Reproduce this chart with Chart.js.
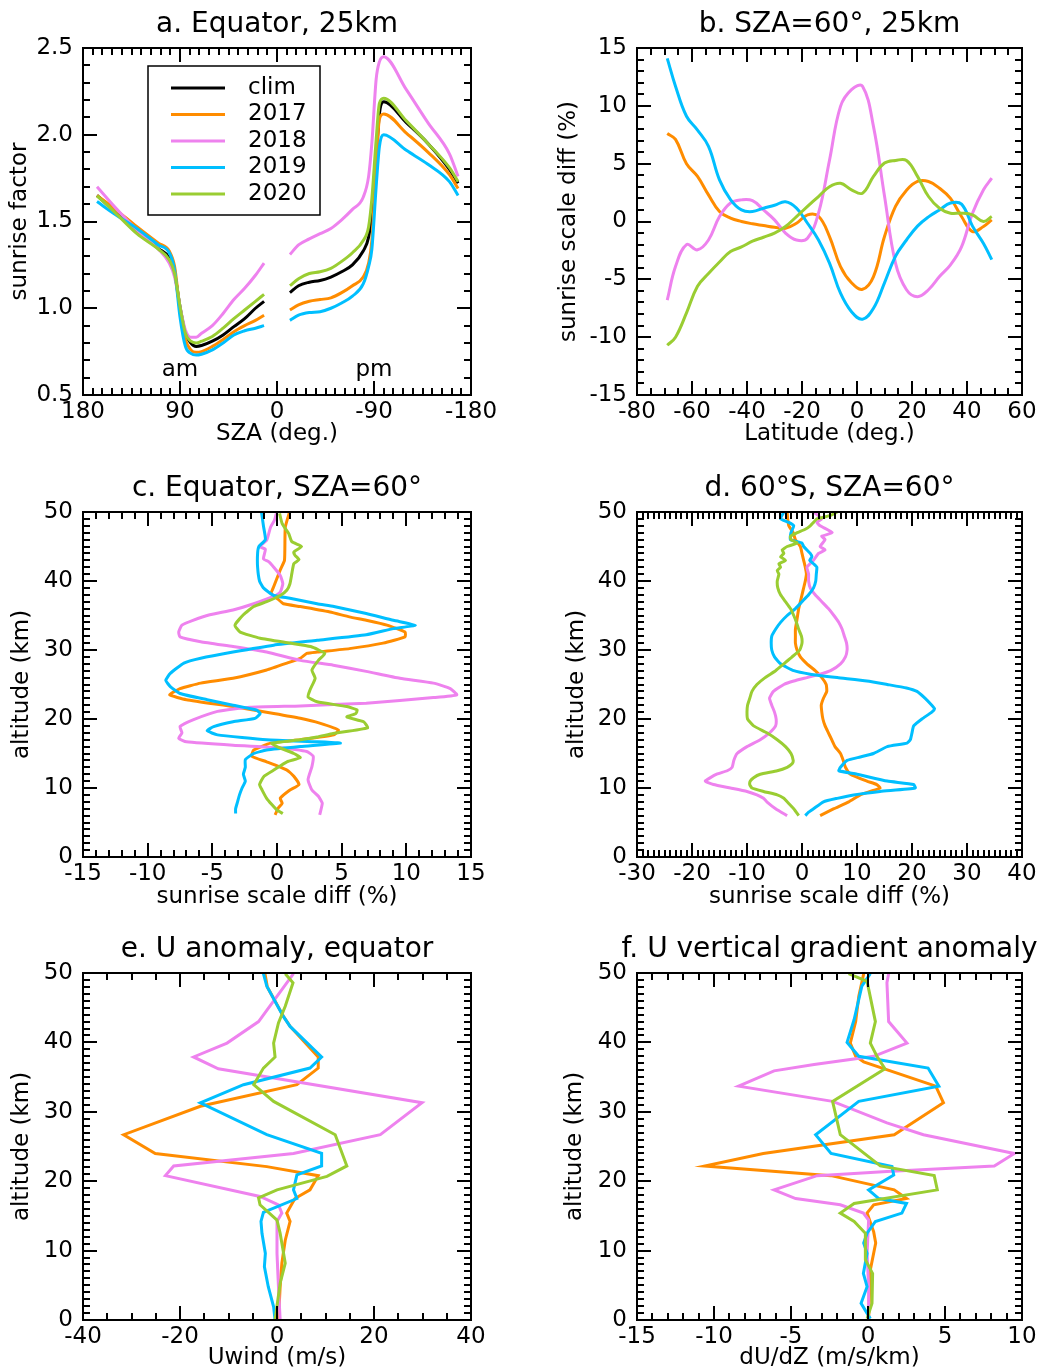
<!DOCTYPE html>
<html>
<head>
<meta charset="utf-8">
<script src="https://cdn.jsdelivr.net/npm/chart.js@4.4.1/dist/chart.umd.min.js"></script>
<style>
  html, body { margin: 0; padding: 0; background: #fff; }
  #page { position: relative; width: 1047px; height: 1372px; }
  canvas { position: absolute; }
</style>
</head>
<body>
<div id="page">
  <canvas id="pa" width="520" height="460" style="left:0;top:0"></canvas>
  <canvas id="pb" width="527" height="460" style="left:520px;top:0"></canvas>
  <canvas id="pc" width="520" height="460" style="left:0;top:460px"></canvas>
  <canvas id="pd" width="527" height="460" style="left:520px;top:460px"></canvas>
  <canvas id="pe" width="520" height="452" style="left:0;top:920px"></canvas>
  <canvas id="pf" width="527" height="452" style="left:520px;top:920px"></canvas>
</div>
<script>
// colours used by every panel
const C_CLIM = '#000000';
const C_2017 = '#ff8c00';
const C_2018 = '#ee82ee';
const C_2019 = '#00bfff';
const C_2020 = '#9acd32';

// --- a. Equator, 25km (sunrise factor vs SZA, am / pm branches)
const szaAm = [167, 150, 130, 110, 100, 95, 90, 85, 80, 75, 70, 60, 50, 40, 30, 20, 12];
const szaPm = [-12, -20, -30, -40, -50, -60, -70, -80, -85, -88, -92, -95, -99, -120, -140, -160, -168];
const climAm = [1.65, 1.556, 1.45, 1.344, 1.29, 1.20, 1.01, 0.856, 0.80, 0.78, 0.785, 0.81, 0.846, 0.894, 0.94, 1.0, 1.04];
const climPm = [1.09, 1.13, 1.15, 1.16, 1.18, 1.21, 1.25, 1.33, 1.41, 1.55, 1.86, 2.12, 2.19, 2.07, 1.95, 1.80, 1.72];
const a2017Am = [1.65, 1.57, 1.47, 1.375, 1.33, 1.24, 0.99, 0.82, 0.76, 0.746, 0.75, 0.78, 0.82, 0.865, 0.90, 0.93, 0.96];
const a2017Pm = [0.99, 1.02, 1.04, 1.05, 1.06, 1.09, 1.13, 1.18, 1.26, 1.39, 1.82, 2.09, 2.12, 2.01, 1.90, 1.77, 1.69];
const a2018Am = [1.70, 1.58, 1.45, 1.34, 1.26, 1.18, 1.01, 0.875, 0.833, 0.833, 0.856, 0.90, 0.97, 1.05, 1.115, 1.19, 1.26];
const a2018Pm = [1.31, 1.365, 1.40, 1.43, 1.46, 1.51, 1.57, 1.64, 1.76, 1.95, 2.32, 2.42, 2.45, 2.26, 2.07, 1.89, 1.76];
const a2019Am = [1.615, 1.54, 1.46, 1.365, 1.32, 1.22, 0.95, 0.78, 0.74, 0.73, 0.735, 0.76, 0.80, 0.846, 0.87, 0.885, 0.90];
const a2019Pm = [0.93, 0.96, 0.975, 0.98, 1.0, 1.03, 1.07, 1.14, 1.24, 1.34, 1.70, 1.93, 2.0, 1.91, 1.83, 1.73, 1.65];
const a2020Am = [1.648, 1.55, 1.43, 1.34, 1.28, 1.20, 1.01, 0.856, 0.81, 0.80, 0.81, 0.837, 0.885, 0.94, 0.99, 1.04, 1.08];
const a2020Pm = [1.13, 1.17, 1.20, 1.21, 1.23, 1.27, 1.32, 1.39, 1.47, 1.63, 1.97, 2.18, 2.21, 2.08, 1.95, 1.81, 1.73];
const legendNames = ['clim', '2017', '2018', '2019', '2020'];

// --- b. SZA=60, 25km (diff vs latitude)
const latB = [-69, -66, -62, -58, -54, -50, -46, -42, -38, -34, -30, -26, -22, -18, -14, -10, -6, -2, 2, 6, 10, 14, 18, 22, 26, 30, 34, 38, 42, 46, 49];
const b2017 = [7.6, 7.1, 5.0, 3.9, 2.3, 0.86, 0.29, 0, -0.2, -0.35, -0.5, -0.58, -0.15, 0.57, 0.45, -1.3, -3.9, -5.3, -5.86, -4.76, -1.3, 1.3, 2.7, 3.46, 3.46, 2.88, 2.0, 0.43, -0.87, -0.43, 0.14];
const b2018 = [-6.8, -3.9, -2.0, -2.45, -1.6, 0.43, 1.6, 1.87, 1.8, 1.0, 0.14, -1.0, -1.6, -1.45, 0.72, 5.3, 9.95, 11.4, 11.7, 8.2, 2.2, -3.6, -5.9, -6.5, -5.9, -4.76, -3.75, -2.2, 0.72, 2.74, 3.75];
const b2019 = [14.1, 11.7, 9.1, 7.9, 6.5, 3.6, 1.9, 1.0, 0.86, 1.15, 1.4, 1.7, 1.15, -0.15, -1.6, -3.6, -6.2, -7.8, -8.45, -7.5, -5.3, -3.0, -1.6, -0.4, 0.4, 1.0, 1.6, 1.5, -0.4, -1.9, -3.3];
const b2020 = [-10.7, -10.0, -7.9, -5.6, -4.5, -3.5, -2.6, -2.2, -1.7, -1.36, -1.0, -0.43, 0.43, 1.3, 2.16, 3.0, 3.3, 2.74, 2.45, 3.9, 5.05, 5.28, 5.28, 3.9, 2.16, 1.15, 0.72, 0.72, 0.57, 0, 0.43];

// --- c. Equator, SZA=60 (diff vs altitude)
const cAlt2017 = [50, 47.8, 43, 41.6, 39.2, 38.2, 37.5, 36.7, 36.3, 35.5, 34.8, 34.3, 33.6, 32.6, 31.9, 31.0, 30.2, 29.7, 29.5, 28.8, 28.1, 27.1, 25.9, 25.2, 24.4, 23.5, 22.8, 21.8, 20.8, 20.1, 19.4, 18.4, 17.7, 17.0, 16.5, 15.5, 14.6, 13.8, 12.6, 11.7, 10.5, 9.7, 8.5, 7.8, 7.1, 6.1];
const c2017 = [0.97, 0.64, 0.58, 0.25, -0.25, -0.45, 0, 0.5, 1.8, 4.1, 5.6, 6.9, 8.5, 9.9, 9.9, 8.2, 5.6, 3.1, 2.3, 1.8, 0.77, -0.8, -3.4, -5.9, -7.5, -8.3, -7.0, -3.4, -0.25, 1.8, 3.3, 4.75, 4.4, 1.8, -0.5, -1.8, -1.95, -0.8, 0.77, 1.3, 1.7, 1.0, 0.25, 0.4, 0.1, -0.15];
const cAlt2018 = [49.8, 48.8, 47.8, 45.9, 45.0, 44.6, 43.2, 42.8, 42.0, 40.8, 39.6, 38.4, 37.8, 36.7, 35.8, 35.1, 34.3, 33.6, 32.6, 31.9, 31.2, 30.5, 29.7, 28.5, 27.8, 26.9, 25.9, 25.2, 24.4, 23.5, 23.1, 22.3, 21.9, 21.7, 21.1, 19.9, 18.9, 18.0, 17.2, 16.7, 16.2, 15.8, 15.3, 14.6, 13.1, 11.2, 9.7, 8.8, 7.8, 6.1];
const c2018 = [-0.05, -0.2, -0.5, -0.8, -1.35, -0.9, -1.05, -0.65, -0.25, 0.25, 0.45, 0.25, -0.25, -1.8, -3.4, -5.2, -6.5, -7.35, -7.6, -7.5, -5.9, -3.4, -0.8, 1.8, 4.35, 6.9, 9.5, 12.1, 13.4, 13.9, 12.1, 6.9, 1.8, -2.1, -4.6, -6.45, -7.5, -7.35, -7.6, -7.0, -3.4, 0.5, 2.3, 2.8, 2.7, 2.4, 2.7, 3.2, 3.5, 3.3];
const cAlt2019 = [50, 48, 46, 45, 44, 42, 40, 39, 37.9, 37.5, 36.7, 36.3, 35.3, 34.3, 33.6, 33.1, 32.2, 31.4, 30.7, 29.7, 28.8, 28.1, 26.6, 25.6, 24.7, 23.7, 22.8, 22.0, 21.3, 20.8, 20.1, 19.6, 18.9, 18.3, 17.7, 17.0, 16.7, 16.5, 16.0, 15.5, 15.0, 14.1, 13, 12, 11, 10, 9, 8, 7, 6.3];
const c2019 = [-1.2, -1.05, -0.9, -1.4, -1.5, -1.5, -1.35, -1.05, -0.25, 1.0, 3.1, 4.4, 6.9, 9.0, 10.7, 9.0, 6.9, 3.1, -0.25, -3.4, -5.9, -7.2, -8.25, -8.6, -8.25, -7.5, -5.4, -3.4, -1.6, -1.3, -1.7, -3.4, -4.9, -5.4, -4.6, -0.8, 3.1, 4.9, 1.8, -0.8, -1.8, -2.45, -2.45, -2.6, -2.45, -2.7, -2.9, -3.05, -3.2, -3.2];
const cAlt2020 = [49.8, 48.3, 46.9, 45.7, 45.0, 44.2, 43.7, 43.1, 42.5, 41.1, 39.6, 38.7, 37.9, 37.0, 36.3, 35.1, 33.6, 32.6, 31.7, 31.0, 30.5, 29.5, 28.5, 27.1, 25.9, 24.2, 23.2, 22.5, 21.8, 21.3, 20.8, 20.3, 19.6, 18.7, 17.9, 17.4, 17.0, 16.5, 16.0, 15.0, 14.4, 13.8, 12.6, 11.7, 10.5, 9.7, 8.5, 7.6, 6.8, 6.3];
const c2020 = [0.2, 0.4, 0.9, 1.15, 1.9, 1.3, 1.4, 1.7, 1.3, 1.15, 1.0, 0.77, 0.25, -0.8, -1.8, -2.6, -3.25, -2.85, -1.3, 1.0, 2.6, 3.7, 3.2, 2.7, 2.95, 2.55, 2.4, 3.1, 5.4, 6.2, 6.1, 5.4, 6.7, 7.0, 4.35, 3.1, 1.8, -0.4, 0, 1.3, 1.8, 0.77, -0.25, -1.0, -1.35, -1.15, -0.8, -0.4, 0, 0.45];

// --- d. 60S, SZA=60 (diff vs altitude)
const dAlt2017 = [50, 49, 48, 47, 46, 45, 44, 43, 42, 41, 40, 39, 38, 37, 36, 35, 34, 33, 32, 31, 30, 29, 28, 27, 26, 25, 24, 23, 22, 21, 20, 19, 18, 17, 16, 15, 14, 13, 12, 11, 10.5, 10, 9.5, 9, 8, 7, 6];
const d2017 = [-2.7, -2.6, -2.4, -1.6, -1.2, -0.3, 0, 0.3, 0.6, 0.8, 0.6, 0.3, 0, -0.3, -0.6, -0.8, -1.0, -1.2, -1.2, -1.2, -0.9, -0.3, 0.9, 2.4, 3.6, 4.4, 4.5, 3.9, 3.5, 3.6, 3.8, 4.2, 4.8, 5.4, 6.0, 7.0, 7.5, 7.9, 8.8, 11.8, 13.6, 14.2, 12.4, 10.6, 8.5, 5.8, 3.3];
const dAlt2018 = [50, 49, 48.5, 48, 47, 46.5, 46, 45, 44.5, 44, 43, 42, 41, 40, 39, 38, 37, 36, 35, 34, 33, 32, 31, 30, 29, 28, 27, 26.5, 26, 25.5, 25, 24, 23, 22, 21, 20, 19, 18, 17, 16, 15, 14, 13, 12.5, 12, 11, 10.5, 10, 9.5, 9, 8.5, 8, 7, 6];
const d2018 = [2.1, 3.6, 2.7, 3.3, 5.5, 3.6, 4.2, 3.3, 4.2, 3.0, 2.1, 0.9, 1.2, 1.2, 1.5, 2.4, 3.6, 4.8, 5.8, 6.7, 7.3, 7.7, 8.1, 8.2, 7.9, 7.0, 5.2, 3.3, 0.9, -1.5, -3.3, -5.2, -5.9, -5.5, -5.0, -4.7, -4.8, -5.9, -7.6, -10.0, -11.8, -12.4, -12.7, -13.6, -15.5, -17.6, -16.1, -13.0, -10.0, -8.2, -7.0, -6.4, -4.8, -2.7];
const dAlt2019 = [50, 49, 48.5, 48, 47, 46, 45.5, 45, 44, 43.5, 43, 42.5, 42, 41, 40, 39, 38, 37, 36, 35, 34, 33, 32, 31, 30, 29, 28, 27, 26.5, 26, 25.5, 25, 24.5, 24, 23, 22, 21.5, 21, 20, 19, 18, 17, 16.5, 16, 15, 14.5, 14, 13, 12.5, 12, 11, 10.5, 10, 9.5, 9, 8.5, 8, 7, 6.5, 6];
const d2019 = [-3.3, -3.9, -2.4, -1.5, -2.0, -2.1, 0, 0.3, 1.5, 1.8, 1.4, 2.1, 2.7, 2.6, 2.5, 2.1, 1.2, 0, -1.2, -2.7, -3.9, -4.8, -5.5, -5.6, -5.5, -5.0, -3.9, -1.5, 1.5, 6.4, 11.8, 15.5, 19.0, 20.9, 22.4, 23.6, 24.1, 23.6, 21.8, 20.3, 20.0, 19.7, 19.1, 15.5, 13.0, 10.6, 8.2, 7.0, 6.7, 10.0, 15.5, 20.3, 20.6, 14.2, 9.4, 6.4, 3.9, 2.1, 1.2, 0.6];
const dAlt2020 = [50, 49.5, 49, 48.5, 48, 47.5, 47, 46.5, 46, 45.5, 45, 44.5, 44, 43.5, 43, 42.5, 42, 41.5, 41, 40, 39, 38, 37, 36, 35, 34, 33, 32, 31, 30, 29, 28, 27, 26, 25, 24, 23, 22, 21, 20, 19, 18, 17, 16, 15, 14, 13.5, 13, 12.5, 12, 11.5, 11, 10.5, 10, 9.5, 9, 8.5, 8, 7, 6];
const d2020 = [6.4, 5.2, 2.7, 2.1, 1.5, 0.6, -0.9, -2.1, -2.0, -0.9, -2.7, -3.6, -3.3, -3.9, -3.0, -4.2, -3.9, -4.5, -4.2, -4.5, -4.4, -3.9, -3.0, -2.1, -1.5, -1.0, -0.6, -0.1, 0, -0.4, -1.8, -3.3, -4.8, -6.7, -8.2, -9.1, -9.5, -9.9, -10.0, -9.9, -8.8, -6.4, -4.5, -3.0, -2.0, -1.6, -1.8, -2.7, -4.5, -7.6, -8.8, -9.4, -9.5, -9.1, -7.0, -4.5, -3.3, -2.7, -1.5, -0.6];

// --- e. U anomaly, equator (m/s vs altitude)
const eAlt2017 = [50, 48, 43.8, 42.3, 37.9, 36.3, 33.9, 30.8, 26.7, 24.0, 22.1, 20.8, 18.75, 17.5, 15.4, 14.2, 11.5, 8.2, 4.8, 0];
const e2017 = [-2.5, -2.0, 1.3, 2.7, 8.5, 8.5, 4.1, -15.8, -31.6, -25.1, -2.1, 8.5, 6.8, 3.7, 2.0, 2.7, 1.7, 1.0, 0.65, 0.3];
const eAlt2018 = [49.9, 43.0, 39.9, 37.9, 36.2, 31.3, 26.7, 24.0, 22.2, 20.8, 17.8, 16.6, 15.4, 14.2, 9.6, 4.8, 0];
const e2018 = [3.4, -3.8, -10.3, -17.2, -12.1, 29.9, 21.3, 3.4, -21.3, -23.0, -3.5, 0.3, 1.0, 0, 0, 0.3, 0.65];
const eAlt2019 = [49.9, 48.1, 43.75, 42.3, 37.9, 36.3, 33.9, 31.3, 26.7, 24.0, 22.2, 20.9, 18.75, 17.5, 15.5, 14.2, 12.5, 9.6, 7.7, 4.8, 1.9, 0];
const e2019 = [-2.8, -2.1, 1.3, 2.7, 9.2, 6.8, -6.9, -15.8, -2.1, 9.2, 9.2, 4.1, 3.4, 4.1, -2.8, -3.3, -3.1, -2.4, -2.6, -1.8, -0.7, -0.4];
const eAlt2020 = [49.9, 48.6, 45.2, 42.8, 39.9, 37.9, 36.3, 33.9, 31.5, 26.7, 22.2, 20.7, 18.75, 17.6, 16.6, 14.4, 12.5, 8.2, 5.3, 0];
const e2020 = [1.7, 3.3, 1.7, 0.3, -0.7, -0.4, -2.8, -4.8, -0.7, 12.0, 14.4, 10.3, 0, -3.8, -3.5, 0, 0.65, 1.7, 0.65, -0.4];

// --- f. U vertical gradient anomaly (m/s/km vs altitude)
const fAlt2017 = [49.9, 46.6, 43.0, 39.9, 38.0, 37.2, 33.7, 31.3, 26.7, 24.0, 22.2, 20.8, 18.75, 17.5, 16.6, 15.4, 12.7, 11.1, 7.2, 0];
const f2017 = [-0.28, -0.6, -0.8, -1.15, -0.8, -0.28, 4.4, 4.9, 1.7, -6.8, -10.6, -2.4, 1.7, 2.5, 0.37, -0.06, 0.37, 0.5, 0.15, 0.04];
const fAlt2018 = [49.9, 48.6, 43.0, 39.9, 38.0, 36.8, 35.9, 33.7, 31.5, 28.4, 26.7, 24.0, 22.2, 21.4, 20.8, 18.75, 17.5, 16.6, 15.4, 14.4, 9.6, 4.8, 0.5];
const f2018 = [1.34, 1.23, 1.34, 2.53, 0.37, -3.5, -6.1, -8.4, -2.3, 1.23, 3.6, 9.5, 8.2, 1.23, -3.3, -6.1, -4.7, -1.8, -0.3, 0.04, -0.06, 0.04, 0.04];
const fAlt2019 = [49.9, 48.1, 43.3, 40.0, 38.0, 36.3, 33.7, 31.5, 26.7, 24.0, 22.1, 20.9, 18.75, 17.5, 16.8, 15.4, 14.2, 12.5, 11.1, 9.6, 6.7, 4.8, 2.4, 0.2];
const f2019 = [0.15, -0.4, -0.9, -1.36, -0.6, 3.9, 4.6, -0.6, -3.4, -2.4, 1.56, 1.67, 0.04, 0.7, 2.5, 2.2, 0.48, -0.06, -0.28, -0.06, -0.3, -0.06, -0.45, 0.15];
const fAlt2020 = [49.9, 48.8, 43.0, 39.9, 38.0, 36.2, 31.5, 26.7, 22.2, 20.8, 18.75, 16.8, 15.4, 14.2, 12.5, 8.7, 6.7, 2.4, 0.2];
const f2020 = [-1.26, -0.06, 0.48, 0.15, 0.58, 1.1, -2.3, -1.8, 0.8, 4.3, 4.5, -0.9, -1.8, -0.9, -0.17, -0.17, 0.3, 0.26, -0.06];

const FONT = 'DejaVu Sans';
Chart.defaults.font.family = FONT;
Chart.defaults.font.size = 23;
Chart.defaults.color = '#000';

// frame, inward ticks on all four sides, panel title and extra labels
const panelFrame = {
  id: 'panelFrame',
  afterDatasetsDraw(chart, args, o) {
    const { ctx, chartArea: a } = chart;
    const sx = chart.scales.x, sy = chart.scales.y;
    ctx.save();
    ctx.strokeStyle = '#000';
    ctx.lineWidth = 2;
    ctx.beginPath();
    const xTicks = (step, len) => {
      const n = Math.round((sx.max - sx.min) / step);
      for (let i = 0; i <= n; i++) {
        const px = Math.round(sx.getPixelForValue(sx.min + i * step));
        ctx.moveTo(px, a.bottom); ctx.lineTo(px, a.bottom - len);
        ctx.moveTo(px, a.top); ctx.lineTo(px, a.top + len);
      }
    };
    const yTicks = (step, len) => {
      const n = Math.round((sy.max - sy.min) / step);
      for (let i = 0; i <= n; i++) {
        const py = Math.round(sy.getPixelForValue(sy.min + i * step));
        ctx.moveTo(a.left, py); ctx.lineTo(a.left + len, py);
        ctx.moveTo(a.right, py); ctx.lineTo(a.right - len, py);
      }
    };
    xTicks(o.xMinor, 7); xTicks(o.xMajor, 14);
    yTicks(o.yMinor, 7); yTicks(o.yMajor, 14);
    ctx.stroke();
    ctx.strokeRect(a.left, a.top, a.right - a.left, a.bottom - a.top);

    ctx.fillStyle = '#000';
    ctx.textAlign = 'center';
    ctx.textBaseline = 'middle';
    ctx.font = '28px ' + FONT;
    ctx.fillText(o.title, (a.left + a.right) / 2, a.top - 23);

    (o.notes || []).forEach(t => {
      ctx.font = '23px ' + FONT;
      ctx.fillText(t.text, sx.getPixelForValue(t.x), sy.getPixelForValue(t.y));
    });

    if (o.legend) {
      const L = o.legend;
      ctx.lineWidth = 1.5;
      ctx.strokeRect(L.x, L.y, L.w, L.h);
      ctx.textAlign = 'left';
      ctx.font = '23px ' + FONT;
      L.names.forEach((name, i) => {
        const yy = L.y + 22 + i * 26.5;
        ctx.strokeStyle = L.colors[i];
        ctx.lineWidth = 3;
        ctx.beginPath();
        ctx.moveTo(L.x + 23, yy); ctx.lineTo(L.x + 77, yy);
        ctx.stroke();
        ctx.fillText(name, L.x + 100, yy);
      });
    }
    ctx.restore();
  }
};
Chart.register(panelFrame);

function line(xs, ys, color, order, smooth) {
  const ds = {
    data: xs.map((x, i) => ({ x, y: ys[i] })),
    borderColor: color,
    borderWidth: 3,
    pointRadius: 0,
    fill: false,
    order
  };
  if (smooth === 'monotone') ds.cubicInterpolationMode = 'monotone';
  else ds.tension = smooth || 0;
  return ds;
}

function makePanel(id, p) {
  return new Chart(document.getElementById(id), {
    type: 'line',
    data: { datasets: p.datasets },
    options: {
      responsive: false,
      animation: false,
      events: [],
      layout: { padding: { top: p.top, right: p.right, bottom: p.bottom, left: 0 } },
      plugins: {
        legend: { display: false },
        tooltip: { enabled: false },
        panelFrame: p.frame
      },
      scales: {
        x: {
          type: 'linear', min: p.x.min, max: p.x.max, reverse: !!p.x.reverse,
          afterFit: s => { s.height = p.xh; },
          grid: { display: false, drawTicks: false },
          border: { display: false },
          ticks: { stepSize: p.x.step, padding: 3, maxRotation: 0, autoSkip: false, callback: v => String(v) },
          title: { display: true, text: p.x.title, padding: { top: 0, bottom: p.x.pad } }
        },
        y: {
          type: 'linear', min: p.y.min, max: p.y.max,
          afterFit: s => { s.width = p.yw; },
          grid: { display: false, drawTicks: false },
          border: { display: false },
          ticks: { stepSize: p.y.step, padding: 10, autoSkip: false, callback: p.y.fmt || (v => String(v)) },
          title: { display: true, text: p.y.title, padding: { top: p.y.pad, bottom: 0 } }
        }
      }
    }
  });
}

// panel a
const colorsA = [C_CLIM, C_2017, C_2018, C_2019, C_2020];
const amSets = [climAm, a2017Am, a2018Am, a2019Am, a2020Am];
const pmSets = [climPm, a2017Pm, a2018Pm, a2019Pm, a2020Pm];
const dsA = [];
colorsA.forEach((c, i) => {
  dsA.push(line(szaAm, amSets[i], c, 5 - i, 'monotone'));
  dsA.push(line(szaPm, pmSets[i], c, 5 - i, 'monotone'));
});
makePanel('pa', {
  datasets: dsA, top: 48, right: 49, bottom: 5, xh: 60, yw: 83,
  x: { min: -180, max: 180, reverse: true, step: 90, title: 'SZA (deg.)', pad: 7 },
  y: { min: 0.5, max: 2.5, step: 0.5, title: 'sunrise factor', pad: 6, fmt: v => v.toFixed(1) },
  frame: {
    title: 'a. Equator, 25km', xMajor: 90, xMinor: 9, yMajor: 0.5, yMinor: 0.1,
    notes: [{ text: 'am', x: 90, y: 0.645 }, { text: 'pm', x: -90, y: 0.645 }],
    legend: { x: 148, y: 66, w: 172, h: 149, names: legendNames, colors: colorsA }
  }
});

// panel b
makePanel('pb', {
  datasets: [
    line(latB, b2017, C_2017, 4, 0.4), line(latB, b2018, C_2018, 3, 0.4),
    line(latB, b2019, C_2019, 2, 0.4), line(latB, b2020, C_2020, 1, 0.4)
  ],
  top: 48, right: 25, bottom: 5, xh: 60, yw: 117,
  x: { min: -80, max: 60, step: 20, title: 'Latitude (deg.)', pad: 7 },
  y: { min: -15, max: 15, step: 5, title: 'sunrise scale diff (%)', pad: 35 },
  frame: { title: 'b. SZA=60°, 25km', xMajor: 20, xMinor: 5, yMajor: 5, yMinor: 1 }
});

// panel c
makePanel('pc', {
  datasets: [
    line(c2017, cAlt2017, C_2017, 4, 0.15), line(c2018, cAlt2018, C_2018, 3, 0.15),
    line(c2019, cAlt2019, C_2019, 2, 0.15), line(c2020, cAlt2020, C_2020, 1, 0.15)
  ],
  top: 52, right: 49, bottom: 3, xh: 60, yw: 83,
  x: { min: -15, max: 15, step: 5, title: 'sunrise scale diff (%)', pad: 6 },
  y: { min: 0, max: 50, step: 10, title: 'altitude (km)', pad: 8 },
  frame: { title: 'c. Equator, SZA=60°', xMajor: 5, xMinor: 1, yMajor: 10, yMinor: 1 }
});

// panel d
makePanel('pd', {
  datasets: [
    line(d2017, dAlt2017, C_2017, 4, 0.15), line(d2018, dAlt2018, C_2018, 3, 0.15),
    line(d2019, dAlt2019, C_2019, 2, 0.15), line(d2020, dAlt2020, C_2020, 1, 0.15)
  ],
  top: 52, right: 25, bottom: 3, xh: 60, yw: 117,
  x: { min: -30, max: 40, step: 10, title: 'sunrise scale diff (%)', pad: 6 },
  y: { min: 0, max: 50, step: 10, title: 'altitude (km)', pad: 43 },
  frame: { title: 'd. 60°S, SZA=60°', xMajor: 10, xMinor: 1, yMajor: 10, yMinor: 1 }
});

// panel e
makePanel('pe', {
  datasets: [
    line(e2017, eAlt2017, C_2017, 4, 0), line(e2018, eAlt2018, C_2018, 3, 0),
    line(e2019, eAlt2019, C_2019, 2, 0), line(e2020, eAlt2020, C_2020, 1, 0)
  ],
  top: 53, right: 49, bottom: 0, xh: 52, yw: 83,
  x: { min: -40, max: 40, step: 20, title: 'Uwind (m/s)', pad: 0 },
  y: { min: 0, max: 50, step: 10, title: 'altitude (km)', pad: 8 },
  frame: { title: 'e. U anomaly, equator', xMajor: 20, xMinor: 5, yMajor: 10, yMinor: 1 }
});

// panel f
makePanel('pf', {
  datasets: [
    line(f2017, fAlt2017, C_2017, 4, 0), line(f2018, fAlt2018, C_2018, 3, 0),
    line(f2019, fAlt2019, C_2019, 2, 0), line(f2020, fAlt2020, C_2020, 1, 0)
  ],
  top: 53, right: 25, bottom: 0, xh: 52, yw: 117,
  x: { min: -15, max: 10, step: 5, title: 'dU/dZ (m/s/km)', pad: 0 },
  y: { min: 0, max: 50, step: 10, title: 'altitude (km)', pad: 41 },
  frame: { title: 'f. U vertical gradient anomaly', xMajor: 5, xMinor: 1, yMajor: 10, yMinor: 1 }
});
</script>
</body>
</html>
